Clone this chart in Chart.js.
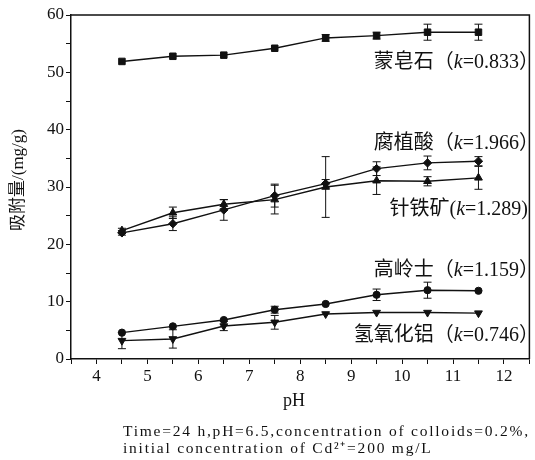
<!DOCTYPE html>
<html>
<head>
<meta charset="utf-8">
<script src="https://cdn.jsdelivr.net/npm/chart.js@4/dist/chart.umd.min.js"></script>
<style>
  html, body { margin: 0; padding: 0; background: #fff; }
  #wrap { width: 535px; height: 460px; }
</style>
</head>
<body>
<div id="wrap"><canvas id="myChart" width="535" height="460"></canvas></div>
<script>
// pH values shared by every series
var phValues = [4.5, 5.5, 6.5, 7.5, 8.5, 9.5, 10.5, 11.5];

var montValues = [51.9, 52.8, 53.0, 54.2, 56.0, 56.4, 57.0, 57.0];
var montErrors = [0, 0, 0, 0, 0.6, 0.6, 1.4, 1.4];

var humicValues = [22.0, 23.6, 26.0, 28.5, 30.6, 33.2, 34.2, 34.5];
var humicErrors = [0.4, 1.2, 1.8, 2.0, 0.7, 1.2, 1.2, 0.8];

var goethiteValues = [22.4, 25.5, 27.0, 27.8, 30.0, 31.1, 31.0, 31.6];
var goethiteErrors = [0.4, 1.0, 0.8, 2.5, 5.3, 2.4, 0.8, 2.0];

var kaolinValues = [4.6, 5.7, 6.8, 8.6, 9.6, 11.2, 12.0, 11.9];
var kaolinErrors = [0, 0, 0, 0.6, 0, 1.0, 1.4, 0];

var alohValues = [3.2, 3.5, 5.75, 6.4, 7.85, 8.1, 8.1, 8.0];
var alohErrors = [1.4, 1.6, 0.8, 1.2, 0, 0, 0, 0];

// series labels, placed near the right end of each curve
var seriesNames = ["蒙皂石", "腐植酸", "针铁矿", "高岭士", "氢氧化铝"];
var seriesK = ["0.833", "1.966", "1.289", "1.159", "0.746"];
var labelY = [51.6, 37.6, 26.1, 15.4, 4.0];

var yTitle = "吸附量/(mg/g)";
var xTitle = "pH";
var captionLines = [
    "Time=24 h,pH=6.5,concentration of colloids=0.2%,",
    "initial concentration of Cd²⁺=200 mg/L",
];

const SERIF = '"Liberation Serif", "Noto Sans CJK SC", serif';

function makeSet(values, errors, style, radius, rotation) {
    return {
        data: phValues.map((x, i) => ({ x: x, y: values[i] })),
        errors: errors,
        borderColor: "#111",
        backgroundColor: "#111",
        borderWidth: 1.4,
        pointStyle: style,
        pointRadius: radius,
        pointRotation: rotation || 0,
        pointBorderWidth: 1,
        tension: 0,
    };
}

const errorBars = {
    id: "errorBars",
    afterDatasetsDraw(chart) {
        const ctx = chart.ctx;
        const y = chart.scales.y;
        ctx.save();
        ctx.strokeStyle = "#111";
        ctx.lineWidth = 1;
        chart.data.datasets.forEach((ds, di) => {
            let meta = chart.getDatasetMeta(di);
            ds.data.forEach((p, i) => {
                let e = ds.errors[i];
                if (!e) return;
                let px = meta.data[i].x;
                let top = y.getPixelForValue(p.y + e);
                let bot = y.getPixelForValue(p.y - e);
                ctx.beginPath();
                ctx.moveTo(px, top);
                ctx.lineTo(px, bot);
                ctx.moveTo(px - 4, top);
                ctx.lineTo(px + 4, top);
                ctx.moveTo(px - 4, bot);
                ctx.lineTo(px + 4, bot);
                ctx.stroke();
            });
        });
        ctx.restore();
    },
};

const texts = {
    id: "texts",
    afterDraw(chart) {
        const ctx = chart.ctx;
        const area = chart.chartArea;
        const y = chart.scales.y;
        ctx.save();
        ctx.fillStyle = "#111";
        ctx.strokeStyle = "#111";

        // frame (top and right)
        ctx.lineWidth = 1.5;
        ctx.beginPath();
        ctx.moveTo(area.left, area.top);
        ctx.lineTo(area.right, area.top);
        ctx.lineTo(area.right, area.bottom);
        ctx.stroke();

        // series labels
        ctx.textBaseline = "middle";
        seriesNames.forEach((name, i) => {
            let half = name == "针铁矿";
            let pre = name + (half ? "(" : "（");
            let post = "=" + seriesK[i] + (half ? ")" : "）");
            let normal = "20px " + SERIF;
            let ital = "italic 20px " + SERIF;
            ctx.font = normal;
            let w1 = ctx.measureText(pre).width;
            let w3 = ctx.measureText(post).width;
            ctx.font = ital;
            let w2 = ctx.measureText("k").width;
            let right = half ? 528 : 539;
            let left = right - w1 - w2 - w3;
            let py = y.getPixelForValue(labelY[i]);
            ctx.textAlign = "left";
            ctx.font = normal;
            ctx.fillText(pre, left, py);
            ctx.font = ital;
            ctx.fillText("k", left + w1, py);
            ctx.font = normal;
            ctx.fillText(post, left + w1 + w2, py);
        });

        // axis titles
        ctx.font = "17px " + SERIF;
        ctx.textAlign = "center";
        ctx.save();
        ctx.translate(19, (area.top + area.bottom) / 2 - 7);
        ctx.rotate(-Math.PI / 2);
        ctx.fillText(yTitle, 0, 0);
        ctx.restore();

        ctx.font = "18px " + SERIF;
        ctx.fillText(xTitle, 294, 401);

        // caption
        ctx.font = "15.5px " + SERIF;
        ctx.textAlign = "left";
        ctx.textBaseline = "alphabetic";
        let w = ctx.measureText(captionLines[0]).width;
        let spacing = (405 - w) / (captionLines[0].length - 1);
        if ("letterSpacing" in ctx) {
            ctx.letterSpacing = spacing.toFixed(2) + "px";
        }
        ctx.fillText(captionLines[0], 123, 436);
        ctx.fillText(captionLines[1], 123, 453);
        ctx.restore();
    },
};

const ctx = document.getElementById("myChart");
const chart = new Chart(ctx, {
    type: "line",
    data: {
        datasets: [
            makeSet(montValues, montErrors, "rect", 4.6),
            makeSet(humicValues, humicErrors, "rectRot", 4.2),
            makeSet(goethiteValues, goethiteErrors, "triangle", 4.5),
            makeSet(kaolinValues, kaolinErrors, "circle", 3.6),
            makeSet(alohValues, alohErrors, "triangle", 4.5, 180),
        ],
    },
    options: {
        responsive: false,
        animation: false,
        layout: {
            padding: { left: 0, right: 2, top: 15, bottom: 0 },
        },
        plugins: {
            legend: { display: false },
            tooltip: { enabled: false },
        },
        scales: {
            x: {
                type: "linear",
                min: 3.5,
                max: 12.5,
                afterFit: (scale) => {
                    scale.height = 101;
                },
                border: { color: "#111", width: 1.5 },
                grid: {
                    drawOnChartArea: false,
                    color: "#111",
                    tickLength: 5,
                },
                ticks: {
                    stepSize: 0.5,
                    color: "#111",
                    padding: 2,
                    maxRotation: 0,
                    autoSkip: false,
                    font: { family: SERIF, size: 17 },
                    callback: function (value) {
                        return Number.isInteger(value) ? value : "";
                    },
                },
            },
            y: {
                min: 0,
                max: 60,
                afterFit: (scale) => {
                    scale.width = 71;
                },
                border: { color: "#111", width: 1.5 },
                grid: {
                    drawOnChartArea: false,
                    color: "#111",
                    tickLength: 5,
                },
                ticks: {
                    stepSize: 5,
                    color: "#111",
                    padding: 2,
                    font: { family: SERIF, size: 17 },
                    callback: function (value) {
                        return value % 10 == 0 ? value : "";
                    },
                },
            },
        },
    },
    plugins: [errorBars, texts],
});
</script>
</body>
</html>
